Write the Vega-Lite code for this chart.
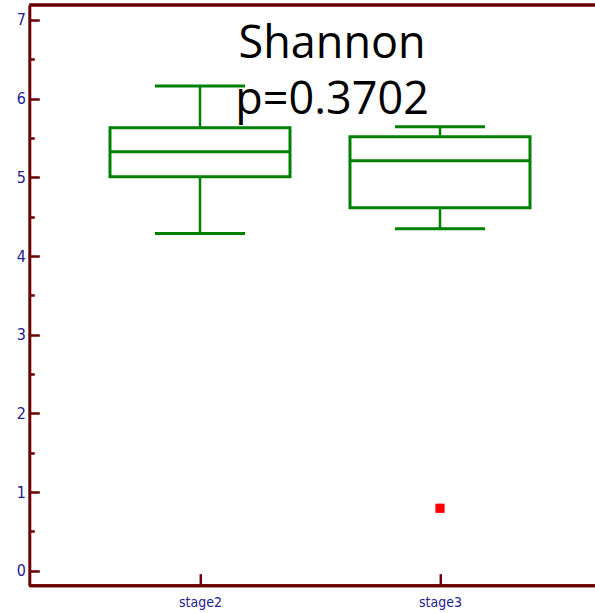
{
  "$schema": "https://vega.github.io/schema/vega-lite/v6.json",
  "autosize": {"type": "none"},
  "padding": {"left": 29.3, "top": 5, "right": 0, "bottom": 27},
  "width": 565.7,
  "height": 580.7,
  "background": "white",
  "config": {"view": {"stroke": null}},
  "title": {
    "text": ["Shannon", "p=0.3702"],
    "font": "Open Sans",
    "fontSize": 45,
    "fontWeight": "normal",
    "color": "black",
    "lineHeight": 56,
    "anchor": "middle",
    "frame": "group",
    "offset": -120,
    "dx": 20
  },
  "datasets": {
    "stats": [
      {"group": "stage2", "lower": 4.285, "q1": 5.007, "median": 5.325, "q3": 5.63, "upper": 6.16},
      {"group": "stage3", "lower": 4.345, "q1": 4.612, "median": 5.21, "q3": 5.516, "upper": 5.643}
    ],
    "outliers": [
      {"group": "stage3", "value": 0.794}
    ]
  },
  "data": {"name": "stats"},
  "encoding": {
    "x": {
      "field": "group",
      "type": "nominal",
      "sort": ["stage2", "stage3"],
      "title": null,
      "scale": {"type": "point", "range": [170.7, 410.7], "padding": 0},
      "axis": {
        "domain": false,
        "labelAngle": 0,
        "tickSize": -12,
        "tickWidth": 2.5,
        "tickColor": "#6b0000",
        "labelFont": "DejaVu Sans Condensed",
        "labelFontSize": 14,
        "labelColor": "#22228f",
        "labelPadding": 22
      }
    }
  },
  "layer": [
    {
      "mark": {"type": "rule", "color": "#6b0000", "strokeWidth": 3},
      "encoding": {
        "x": null,
        "y": {
          "datum": -0.19,
          "type": "quantitative",
          "scale": {"domain": [-0.19, 7.19], "nice": false, "zero": false},
          "title": null,
          "axis": {
            "title": null,
            "values": [0, 0.5, 1, 1.5, 2, 2.5, 3, 3.5, 4, 4.5, 5, 5.5, 6, 6.5, 7],
            "labelExpr": "datum.value % 1 === 0 ? format(datum.value, 'd') : ''",
            "grid": false,
            "domainColor": "#6b0000",
            "domainWidth": 3,
            "tickColor": "#6b0000",
            "tickWidth": 2.5,
            "tickSize": {"condition": {"test": "datum.value % 1 !== 0", "value": -5}, "value": -10},
            "labelFont": "DejaVu Sans Condensed",
            "labelFontSize": 16,
            "labelColor": "#22228f",
            "labelPadding": 14
          }
        }
      }
    },
    {
      "mark": {"type": "rule", "color": "#6b0000", "strokeWidth": 3},
      "encoding": {"x": null, "y": {"datum": 7.19, "type": "quantitative", "title": null}}
    },
    {
      "mark": {"type": "rule", "color": "#008000", "strokeWidth": 2.5},
      "encoding": {
        "y": {"field": "lower", "type": "quantitative", "title": null},
        "y2": {"field": "q1"}
      }
    },
    {
      "mark": {"type": "rule", "color": "#008000", "strokeWidth": 2.5},
      "encoding": {
        "y": {"field": "q3", "type": "quantitative", "title": null},
        "y2": {"field": "upper"}
      }
    },
    {
      "mark": {"type": "bar", "size": 180, "fill": "white", "fillOpacity": 0, "stroke": "#008000", "strokeWidth": 3},
      "encoding": {
        "y": {"field": "q1", "type": "quantitative", "title": null},
        "y2": {"field": "q3"}
      }
    },
    {
      "mark": {"type": "tick", "size": 180, "thickness": 3, "color": "#008000", "opacity": 1},
      "encoding": {"y": {"field": "median", "type": "quantitative", "title": null}}
    },
    {
      "mark": {"type": "tick", "size": 90, "thickness": 3, "color": "#008000", "opacity": 1},
      "encoding": {"y": {"field": "lower", "type": "quantitative", "title": null}}
    },
    {
      "mark": {"type": "tick", "size": 90, "thickness": 3, "color": "#008000", "opacity": 1},
      "encoding": {"y": {"field": "upper", "type": "quantitative", "title": null}}
    },
    {
      "data": {"name": "outliers"},
      "mark": {"type": "square", "size": 85, "color": "#ff0000", "filled": true, "opacity": 1},
      "encoding": {"y": {"field": "value", "type": "quantitative", "title": null}}
    }
  ]
}
